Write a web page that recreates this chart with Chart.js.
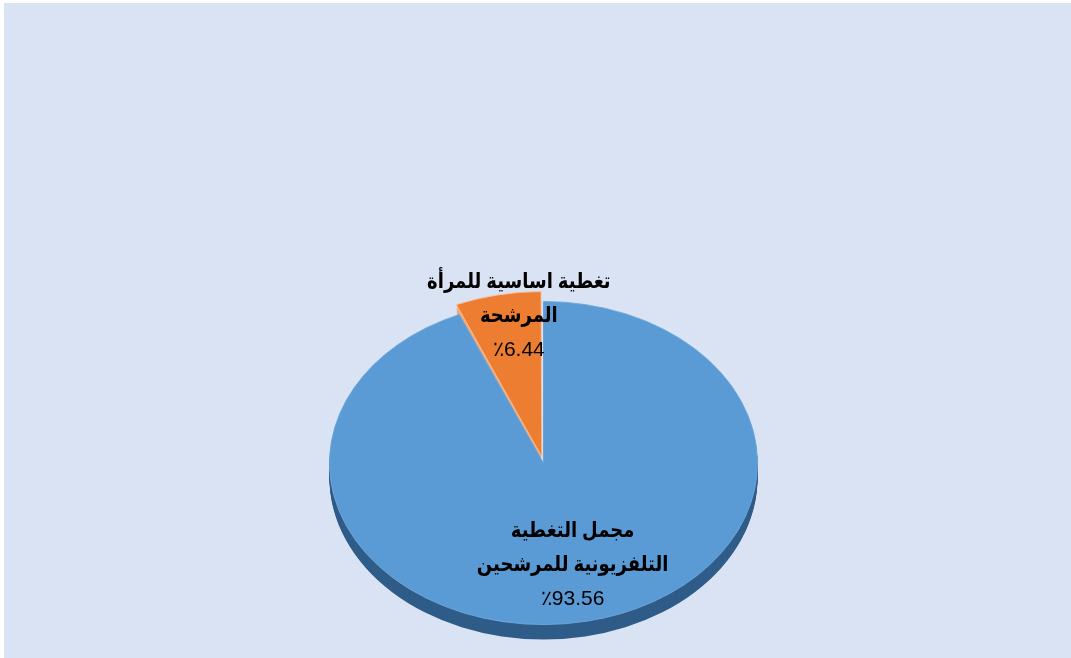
<!DOCTYPE html>
<html><head><meta charset="utf-8">
<script src="https://cdn.jsdelivr.net/npm/chart.js@4.4.0/dist/chart.umd.min.js"></script>
<style>
html,body{margin:0;padding:0;background:#fff;overflow:hidden}
canvas{display:block}
</style></head>
<body><canvas id="c" width="1071" height="658"></canvas>
<script>
const categories = [['مجمل التغطية', 'التلفزيونية للمرشحين'], ['تغطية اساسية للمرأة', 'المرشحة']];
const values = [93.56, 6.44];
const valueLabels = ['٪93.56', '٪6.44'];
const colors = ['#5b9bd5', '#ed7d31'];
const sideColors = ['#2f5c88', '#f0a877'];
const labelRadius = [0.63, 0.93];
const labelNudge = [[2, 2], [18, 10]];

const K = 0.755;        // vertical squash of the tilted pie
const CY_T = 463;       // screen y of the pie centre
const DEPTH = 15;

function offsetShift(arc) {
  const off = (arc.options.offset || 0) / 4;
  const circ = arc.endAngle - arc.startAngle;
  const fix = 1 - Math.sin(Math.min(Math.PI, circ || 0));
  const t = off + off * fix;
  const h = (arc.startAngle + arc.endAngle) / 2;
  return {x: Math.cos(h) * t, y: Math.sin(h) * t};
}

const tiltPlugin = {
  id: 'tilt',
  beforeDraw(chart) {
    const ctx = chart.ctx;
    ctx.save();
    ctx.fillStyle = '#ffffff';
    ctx.fillRect(0, 0, chart.width, chart.height);
    ctx.fillStyle = '#dae3f3';
    ctx.fillRect(4, 3, chart.width - 4, chart.height - 3);
    ctx.restore();
  },
  beforeDatasetsDraw(chart) {
    const meta = chart.getDatasetMeta(0);
    const ctx = chart.ctx;
    const cx = meta.data[0].x, cy = meta.data[0].y;
    for (let d = DEPTH; d >= 1; d--) {
      ctx.save();
      ctx.translate(cx, CY_T + d);
      ctx.scale(1, K);
      ctx.translate(-cx, -cy);
      meta.data.forEach((arc, i) => {
        const o = offsetShift(arc);
        ctx.beginPath();
        ctx.moveTo(arc.x + o.x, arc.y + o.y);
        ctx.arc(arc.x + o.x, arc.y + o.y, arc.outerRadius, arc.startAngle, arc.endAngle);
        ctx.closePath();
        ctx.fillStyle = sideColors[i];
        ctx.fill();
      });
      ctx.restore();
    }
    ctx.save();
    ctx.translate(cx, CY_T);
    ctx.scale(1, K);
    ctx.translate(-cx, -cy);
  },
  afterDatasetsDraw(chart) {
    const ctx = chart.ctx;
    ctx.restore();
    const meta = chart.getDatasetMeta(0);
    const cy = meta.data[0].y;
    meta.data.forEach((arc, i) => {
      const o = offsetShift(arc);
      const h = (arc.startAngle + arc.endAngle) / 2;
      const px = arc.x + o.x + Math.cos(h) * arc.outerRadius * labelRadius[i];
      const py = arc.y + o.y + Math.sin(h) * arc.outerRadius * labelRadius[i];
      const sx = px + labelNudge[i][0], sy = CY_T + (py - cy) * K + labelNudge[i][1];
      ctx.save();
      ctx.fillStyle = '#000';
      ctx.textAlign = 'center';
      ctx.textBaseline = 'middle';
      ctx.direction = 'rtl';
      ctx.font = 'bold 18px Arial, "DejaVu Sans", sans-serif';
      const lines = categories[i];
      lines.forEach((t, j) => {
        ctx.save();
        ctx.translate(sx, sy - 34 + 34 * j);
        ctx.scale(1, 1.2);
        ctx.fillText(t, 0, 0);
        ctx.restore();
      });
      ctx.direction = 'ltr';
      ctx.font = '21px Arial, "Liberation Sans", sans-serif';
      ctx.fillText(valueLabels[i], sx, sy + 34);
      ctx.restore();
    });
  }
};

new Chart(document.getElementById('c'), {
  type: 'pie',
  data: {
    labels: categories.map(c => c.join(' ')),
    datasets: [{
      data: values,
      backgroundColor: colors,
      borderColor: ['#6fa8dc', '#f7c2a0'],
      borderWidth: 1,
      offset: [0, 33],
      clip: false
    }]
  },
  options: {
    responsive: false,
    animation: false,
    devicePixelRatio: 1,
    radius: 214,
    layout: {padding: {left: 16}},
    plugins: {legend: {display: false}, tooltip: {enabled: false}}
  },
  plugins: [tiltPlugin]
});
</script>
</body></html>
